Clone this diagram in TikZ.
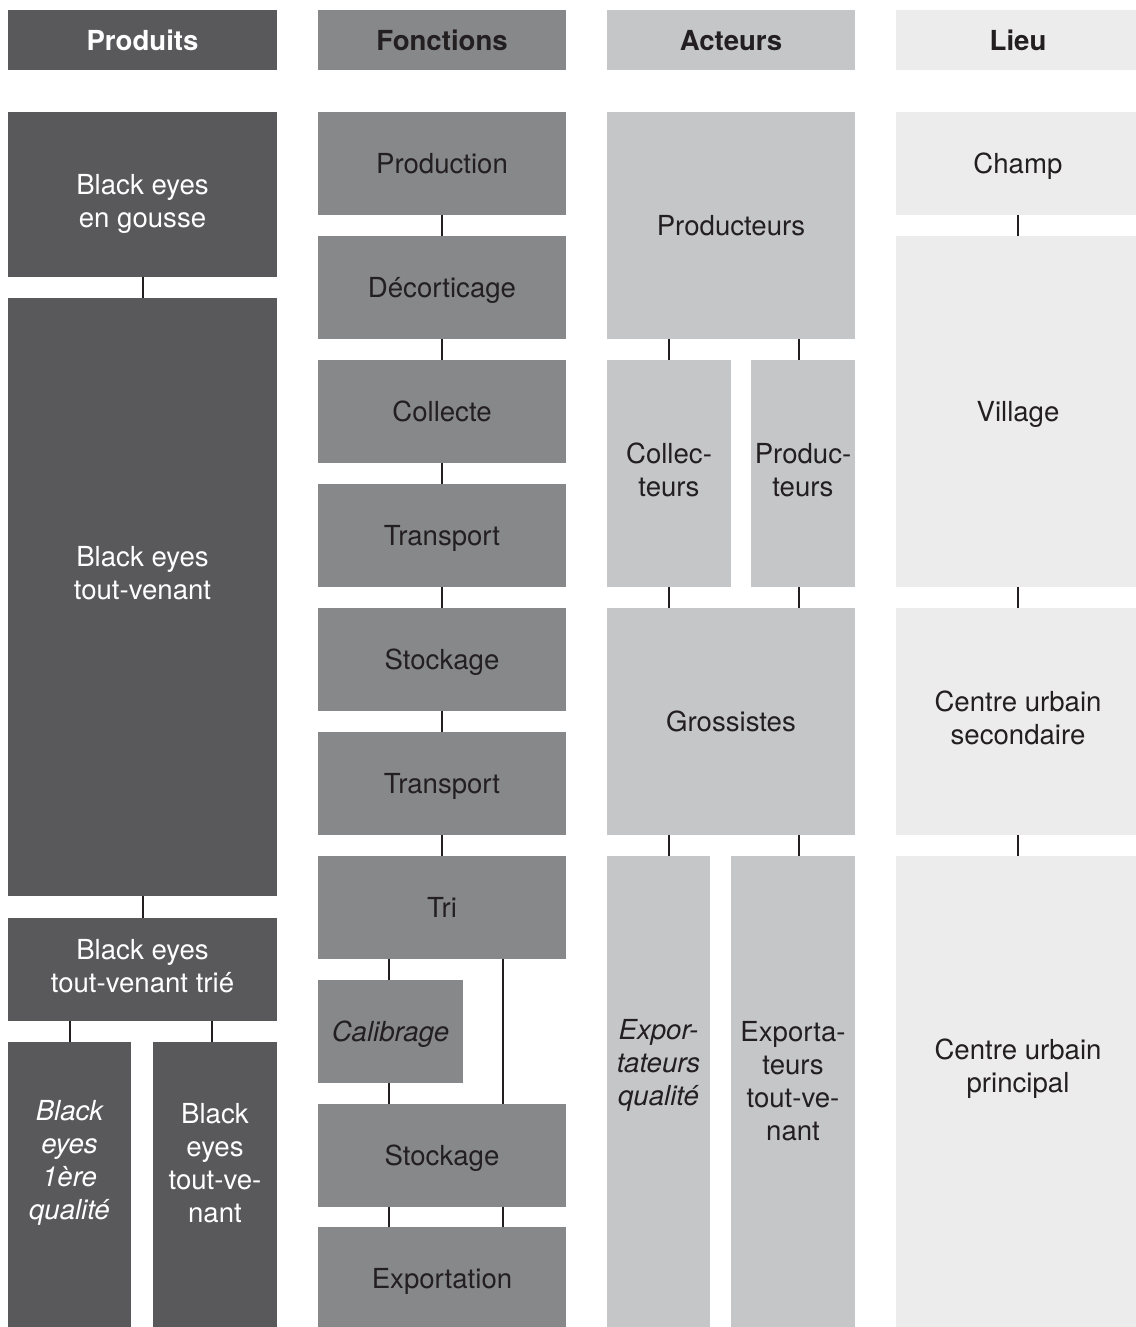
\documentclass[tikz,border=0pt]{standalone}
\usepackage{fontspec}
\setmainfont{TeX Gyre Heros}
\usetikzlibrary{positioning}

\definecolor{gProd}{HTML}{59595B}
\definecolor{gFonc}{HTML}{87888A}
\definecolor{gAct}{HTML}{C5C6C8}
\definecolor{gLieu}{HTML}{ECECEC}
\definecolor{encre}{HTML}{231F20}
\newcommand{\corps}{\fontsize{13.8}{16.5}\selectfont}

\begin{document}
\begin{tikzpicture}[x=0.5pt, y=-0.5pt]
    \tikzset{
        box/.style={inner sep=0pt, align=center, font=\corps, text=encre, text depth=0pt},
        deux/.style={text depth=4pt},
        produit/.style={box, fill=gProd, text=white},
        fonction/.style={box, fill=gFonc},
        acteur/.style={box, fill=gAct},
        lieu/.style={box, fill=gLieu},
        entete/.style={font=\corps\bfseries, minimum height=30pt},
        txt/.style={align=center, font=\corps, text=encre, inner sep=0pt},
        lien/.style={draw=encre, line width=1pt}
    }
    \useasboundingbox (0,0) rectangle (1135,1327);

    % en-tetes
    \node[produit, entete, minimum width=134.5pt] (hP) at (142.5,40) {Produits};
    \node[fonction, entete, minimum width=124pt] (hF) at (442,40) {Fonctions};
    \node[acteur, entete, minimum width=124pt] (hA) at (731,40) {Acteurs};
    \node[lieu, entete, minimum width=122pt] (hL) at (1018,40) {Lieu};

    % produits
    \node[produit, minimum width=134.5pt, minimum height=82.5pt,
        label={[txt, text=white, yshift=-4.5pt]center:{Black eyes\\en gousse}}] (p1) at (142.5,194.5) {};
    \node[produit, minimum width=134.5pt, minimum height=299pt,
        label={[txt, text=white, yshift=12pt]center:{Black eyes\\tout-venant}}] (p2) at (142.5,597) {};
    \node[produit, deux, minimum width=134.5pt, minimum height=51.5pt] (p3) at (142.5,969.5) {Black eyes\\tout-venant trié};
    \node[produit, minimum width=61.5pt, minimum height=144pt,
        label={[txt, text=white, yshift=11.5pt]center:{\itshape Black\\\itshape eyes\\\itshape 1ère\\\itshape qualité}}] (p4) at (69.5,1186) {};
    \node[produit, minimum width=62pt, minimum height=144pt,
        label={[txt, text=white, yshift=11.5pt]center:{Black\\eyes\\tout-ve-\\nant}}] (p5) at (215,1186) {};

    % fonctions
    \node[fonction, minimum width=124pt, minimum height=51.5pt] (f1) at (442,163.5) {Production};
    \node[fonction, minimum width=124pt, minimum height=51.5pt] (f2) at (442,287.5) {Décorticage};
    \node[fonction, minimum width=124pt, minimum height=51.5pt] (f3) at (442,411.5) {Collecte};
    \node[fonction, minimum width=124pt, minimum height=51.5pt] (f4) at (442,535.5) {Transport};
    \node[fonction, minimum width=124pt, minimum height=51.5pt] (f5) at (442,659.5) {Stockage};
    \node[fonction, minimum width=124pt, minimum height=51.5pt] (f6) at (442,783.5) {Transport};
    \node[fonction, minimum width=124pt, minimum height=51.5pt] (f7) at (442,907.5) {Tri};
    \node[fonction, minimum width=72.5pt, minimum height=51.5pt, font=\corps\itshape] (f8) at (390.5,1031.5) {Calibrage};
    \node[fonction, minimum width=124pt, minimum height=51.5pt] (f9) at (442,1155.5) {Stockage};
    \node[fonction, minimum width=124pt, minimum height=51.5pt] (f10) at (442,1278.5) {Exportation};

    % acteurs
    \node[acteur, minimum width=124pt, minimum height=113.5pt] (a1) at (731,225.5) {Producteurs};
    \node[acteur, deux, minimum width=62pt, minimum height=113.5pt] (a2) at (669,473.5) {Collec-\\teurs};
    \node[acteur, deux, minimum width=52pt, minimum height=113.5pt] (a3) at (803,473.5) {Produc-\\teurs};
    \node[acteur, minimum width=124pt, minimum height=113.5pt] (a4) at (731,721.5) {Grossistes};
    \node[acteur, minimum width=51.5pt, minimum height=237pt,
        label={[txt, yshift=14pt]center:{\itshape Expor-\\\itshape tateurs\\\itshape qualité}}] (a5) at (658.5,1093) {};
    \node[acteur, minimum width=62pt, minimum height=237pt,
        label={[txt, yshift=6pt]center:{Exporta-\\teurs\\tout-ve-\\nant}}] (a6) at (793,1093) {};

    % lieux
    \node[lieu, minimum width=122pt, minimum height=51.5pt] (l1) at (1018,163.5) {Champ};
    \node[lieu, minimum width=122pt, minimum height=175.5pt] (l2) at (1018,411.5) {Village};
    \node[lieu, deux, minimum width=122pt, minimum height=113.5pt] (l3) at (1018,721.5) {Centre urbain\\secondaire};
    \node[lieu, minimum width=122pt, minimum height=237pt,
        label={[txt, yshift=12pt]center:{Centre urbain\\principal}}] (l4) at (1018,1093) {};

    % liens
    \coordinate (xP1) at (70,0);
    \coordinate (xP2) at (212,0);
    \coordinate (xF1) at (389,0);
    \coordinate (xF2) at (503,0);
    \coordinate (xA1) at (669,0);
    \coordinate (xA2) at (799,0);

    \draw[lien] (p1.south) -- (p2.north);
    \draw[lien] (p2.south) -- (p3.north);
    \draw[lien] (p3.south -| xP1) -- (p4.north -| xP1);
    \draw[lien] (p3.south -| xP2) -- (p5.north -| xP2);

    \foreach \a/\b in {f1/f2, f2/f3, f3/f4, f4/f5, f5/f6, f6/f7}
        \draw[lien] (\a.south) -- (\b.north);
    \draw[lien] (f7.south -| xF1) -- (f8.north -| xF1);
    \draw[lien] (f8.south -| xF1) -- (f9.north -| xF1);
    \draw[lien] (f7.south -| xF2) -- (f9.north -| xF2);
    \foreach \x in {xF1, xF2}
        \draw[lien] (f9.south -| \x) -- (f10.north -| \x);

    \draw[lien] (a1.south -| xA1) -- (a2.north -| xA1);
    \draw[lien] (a1.south -| xA2) -- (a3.north -| xA2);
    \draw[lien] (a2.south -| xA1) -- (a4.north -| xA1);
    \draw[lien] (a3.south -| xA2) -- (a4.north -| xA2);
    \draw[lien] (a4.south -| xA1) -- (a5.north -| xA1);
    \draw[lien] (a4.south -| xA2) -- (a6.north -| xA2);

    \foreach \a/\b in {l1/l2, l2/l3, l3/l4}
        \draw[lien] (\a.south) -- (\b.north);
\end{tikzpicture}
\end{document}
